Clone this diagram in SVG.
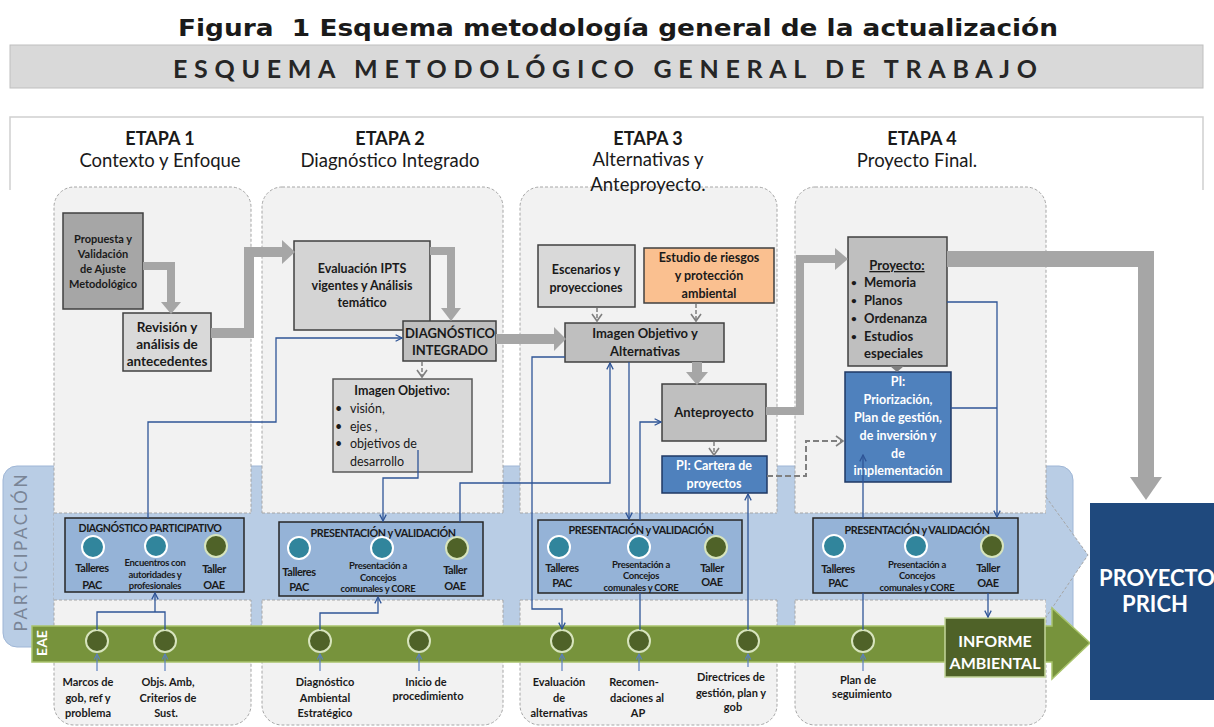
<svg xmlns="http://www.w3.org/2000/svg" width="1214" height="727" viewBox="0 0 1214 727">
<style>
text{font-family:Lato,'Liberation Sans',sans-serif;fill:#1a1a1a}
.m{text-anchor:middle}
.bd{font-weight:bold}
.s11{font-size:11px}
.s12{font-size:12.5px}
.s13{font-size:13px}
.s10{font-size:11px;letter-spacing:-0.45px;font-weight:bold;text-anchor:middle}
.s9{font-size:9.5px;letter-spacing:-0.3px;font-weight:bold;text-anchor:middle}
.w{fill:#fff}
.col{fill:#f2f2f2;stroke:#a6a6a6;stroke-width:1;stroke-dasharray:3 2}
.dl{stroke:#a6a6a6;stroke-width:1;stroke-dasharray:3 2;fill:none}
.ga{fill:none;stroke:#a6a6a6}
.gh{fill:#a6a6a6}
.gd{fill:none;stroke:#7f7f7f;stroke-width:1.5;stroke-dasharray:4 2}
.bl{fill:none;stroke:#2f5597;stroke-width:1.3}
.bl2{fill:none;stroke:#5b7fbf;stroke-width:1.2}
.pres{fill:#95b3d7;stroke:#262626;stroke-width:1.5}
.teal{fill:#31859c;stroke:#fff;stroke-width:2}
.olive{fill:#4f6228;stroke:#d7e4bd;stroke-width:2}
.box{stroke:#404040;stroke-width:1.5}
</style>
<defs>
<marker id="ob" viewBox="0 0 10 10" refX="9" refY="5" markerWidth="8" markerHeight="8" markerUnits="userSpaceOnUse" orient="auto"><path d="M1,1 L9,5 L1,9" fill="none" stroke="#2f5597" stroke-width="1.6"/></marker>
<marker id="ob2" viewBox="0 0 10 10" refX="9" refY="5" markerWidth="7" markerHeight="7" markerUnits="userSpaceOnUse" orient="auto"><path d="M1,1 L9,5 L1,9" fill="none" stroke="#5b7fbf" stroke-width="1.5"/></marker>
<marker id="gc" viewBox="0 0 12 12" refX="8" refY="6" markerWidth="12" markerHeight="12" markerUnits="userSpaceOnUse" orient="auto"><path d="M1,1 L8,6 L1,11" fill="none" stroke="#7f7f7f" stroke-width="1.6"/></marker>
</defs>

<!-- Title -->
<text x="618" y="36" xml:space="preserve" style="font-family:'DejaVu Sans','Liberation Sans',sans-serif" font-size="23.5" font-weight="bold" text-anchor="middle" textLength="880" lengthAdjust="spacingAndGlyphs">Figura  1 Esquema metodología general de la actualización</text>
<rect x="10" y="45" width="1193" height="43" fill="#d9d9d9" stroke="#bfbfbf"/>
<text x="605" y="78" font-size="25" font-weight="bold" text-anchor="middle" textLength="864" lengthAdjust="spacing" style="fill:#262626">ESQUEMA METODOLÓGICO GENERAL DE TRABAJO</text>

<!-- header frame -->
<path d="M10,190 V117 H1203 V190" fill="#fff" stroke="#d0d0d0" stroke-width="1.5"/>

<!-- participation band background -->
<rect x="3" y="466" width="1070" height="181" rx="14" fill="#b9cde5" stroke="#9fb6d6"/>

<!-- stage columns -->
<g id="columns">
<rect class="col" x="54" y="187" width="197" height="538" rx="20"/>
<rect class="col" x="262" y="187" width="241" height="538" rx="20"/>
<rect class="col" x="520" y="187" width="257" height="538" rx="20"/>
<rect class="col" x="795" y="187" width="251" height="538" rx="20"/>
</g>

<!-- participation strip overlay -->
<rect x="54" y="513" width="992" height="87" fill="#b9cde5"/>
<path class="dl" d="M54,513 H251 M262,513 H503 M520,513 H777 M795,513 H1046 M54,600 H251 M262,600 H503 M520,600 H777 M795,600 H1046"/>
<path d="M1046,497 L1088,555 L1046,617" fill="#b9cde5" stroke="#a6a6a6" stroke-dasharray="3 2"/>
<text transform="translate(27,553) rotate(-90)" text-anchor="middle" font-size="17" textLength="157" lengthAdjust="spacing" style="fill:#7a8596">PARTICIPACIÓN</text>

<!-- EAE strip -->
<path d="M32,626 H1052 V608 L1090,643 L1052,679 V662 H32 Z" fill="#77933c" stroke="#a9c46c" stroke-width="1.5"/>
<text transform="translate(47,643) rotate(-90)" text-anchor="middle" font-size="14" font-weight="bold" class="w">EAE</text>

<!-- stage headers -->
<g id="headers">
<text x="160" y="145" font-size="18" class="m bd">ETAPA 1</text>
<text x="160" y="167" font-size="18.5" class="m">Contexto y Enfoque</text>
<text x="390" y="145" font-size="18" class="m bd">ETAPA 2</text>
<text x="390" y="167" font-size="18.5" class="m">Diagnóstico Integrado</text>
<text x="648" y="145" font-size="18" class="m bd">ETAPA 3</text>
<text x="648" y="166" font-size="18.5" class="m">Alternativas y</text>
<text x="648" y="191" font-size="18.5" class="m">Anteproyecto.</text>
<text x="922" y="145" font-size="18" class="m bd">ETAPA 4</text>
<text x="917" y="167" font-size="18.5" class="m">Proyecto Final.</text>
</g>

<!-- nodes -->
<g id="n-propuesta">
<rect class="box" x="63" y="213" width="80" height="96" fill="#a6a6a6"/>
<text class="m bd s11" x="103" y="243">Propuesta  y</text>
<text class="m bd s11" x="103" y="258">Validación</text>
<text class="m bd s11" x="103" y="273">de Ajuste</text>
<text class="m bd s11" x="103" y="288">Metodológico</text>
</g>
<g id="n-revision">
<rect class="box" x="123" y="313" width="88" height="58" fill="#d9d9d9"/>
<text class="m bd" font-size="13.5" x="167" y="332">Revisión y</text>
<text class="m bd" font-size="13.5" x="167" y="349">análisis de</text>
<text class="m bd" font-size="13.5" x="167" y="366">antecedentes</text>
</g>
<g id="n-evaluacion">
<rect class="box" x="294" y="241" width="136" height="89" fill="#d4d4d4"/>
<text class="m bd s12" x="362" y="273">Evaluación IPTS</text>
<text class="m bd s12" x="362" y="290">vigentes y  Análisis</text>
<text class="m bd s12" x="362" y="307">temático</text>
</g>
<g id="n-diagnostico">
<rect class="box" x="403" y="321" width="93" height="40" fill="#bfbfbf"/>
<text class="m bd s13" x="450" y="338">DIAGNÓSTICO</text>
<text class="m bd s13" x="450" y="355">INTEGRADO</text>
</g>
<g id="n-imagen-objetivo">
<rect x="333" y="379" width="139" height="93" fill="#d9d9d9" stroke="#595959" stroke-width="1.5"/>
<text class="m bd s12" x="402" y="395">Imagen Objetivo:</text>
<text class="s12" x="335" y="413">•</text><text class="s12" x="350" y="413">visión,</text>
<text class="s12" x="335" y="431">•</text><text class="s12" x="350" y="431">ejes ,</text>
<text class="s12" x="335" y="448">•</text><text class="s12" x="350" y="448">objetivos de</text>
<text class="s12" x="350" y="466">desarrollo</text>
</g>
<g id="n-escenarios">
<rect class="box" x="538" y="245" width="97" height="62" fill="#d9d9d9"/>
<text class="m bd s12" x="586" y="274">Escenarios y</text>
<text class="m bd s12" x="586" y="292">proyecciones</text>
</g>
<g id="n-estudio">
<rect class="box" x="644" y="248" width="130" height="55" fill="#fac090"/>
<text class="m bd s12" x="709" y="262">Estudio de riesgos</text>
<text class="m bd s12" x="709" y="280">y protección</text>
<text class="m bd s12" x="709" y="298">ambiental</text>
</g>
<g id="n-imagen-alternativas">
<rect class="box" x="565" y="323" width="159" height="39" fill="#bfbfbf"/>
<text class="m bd s13" x="645" y="338">Imagen Objetivo y</text>
<text class="m bd s13" x="645" y="356">Alternativas</text>
</g>
<g id="n-anteproyecto">
<rect class="box" x="662" y="384" width="104" height="57" fill="#bfbfbf"/>
<text class="m bd s13" x="714" y="417">Anteproyecto</text>
</g>
<g id="n-cartera">
<rect x="662" y="456" width="105" height="37" fill="#4f81bd" stroke="#1f3864" stroke-width="1.5"/>
<text class="m bd s12 w" x="714" y="470">PI: Cartera de</text>
<text class="m bd s12 w" x="714" y="488">proyectos</text>
</g>
<g id="n-proyecto">
<rect class="box" x="848" y="237" width="99" height="129" fill="#bfbfbf"/>
<text class="m bd s13" x="897" y="270" text-decoration="underline">Proyecto:</text>
<text class="bd" font-size="10" x="851" y="286">•</text><text class="bd s13" x="864" y="287">Memoria</text>
<text class="bd" font-size="10" x="851" y="304">•</text><text class="bd s13" x="864" y="305">Planos</text>
<text class="bd" font-size="10" x="851" y="322">•</text><text class="bd s13" x="864" y="323">Ordenanza</text>
<text class="bd" font-size="10" x="851" y="340">•</text><text class="bd s13" x="864" y="341">Estudios</text>
<text class="bd s13" x="864" y="358">especiales</text>
</g>
<g id="n-priorizacion">
<rect x="845" y="372" width="106" height="110" fill="#4f81bd" stroke="#1f3864" stroke-width="1.5"/>
<text class="m bd s12 w" x="898" y="386">PI:</text>
<text class="m bd s12 w" x="898" y="404">Priorización,</text>
<text class="m bd s12 w" x="898" y="422">Plan de gestión,</text>
<text class="m bd s12 w" x="898" y="440">de inversión y</text>
<text class="m bd s12 w" x="898" y="458">de</text>
<text class="m bd s12 w" x="898" y="475">implementación</text>
</g>

<g id="n-diag-participativo">
<rect class="pres" x="65" y="518" width="179" height="74"/>
<text class="s10" x="150" y="532" textLength="143" lengthAdjust="spacingAndGlyphs">DIAGNÓSTICO PARTICIPATIVO</text>
<circle class="teal" cx="93" cy="547" r="11"/><circle class="teal" cx="156" cy="546" r="11"/><circle class="olive" cx="216" cy="546" r="11"/>
<text class="s10" x="92" y="572">Talleres</text><text class="s10" x="92" y="589">PAC</text>
<text class="s9" x="155" y="566">Encuentros con</text><text class="s9" x="155" y="577.5">autoridades y</text><text class="s9" x="155" y="589">profesionales</text>
<text class="s10" x="214" y="573">Taller</text><text class="s10" x="214" y="589">OAE</text>
</g>
<g id="n-pv2">
<rect class="pres" x="279" y="522" width="204" height="74"/>
<text class="s10" x="383" y="537" textLength="145" lengthAdjust="spacingAndGlyphs">PRESENTACIÓN y VALIDACIÓN</text>
<circle class="teal" cx="299" cy="548" r="11"/><circle class="teal" cx="382" cy="548" r="11"/><circle class="olive" cx="457" cy="548" r="11"/>
<text class="s10" x="299" y="576">Talleres</text><text class="s10" x="299" y="591">PAC</text>
<text class="s9" x="378" y="569">Presentación a</text><text class="s9" x="378" y="580.5">Concejos</text><text class="s9" x="378" y="592">comunales y CORE</text>
<text class="s10" x="455" y="574">Taller</text><text class="s10" x="455" y="590">OAE</text>
</g>
<g id="n-pv3">
<rect class="pres" x="538" y="520" width="204" height="73"/>
<text class="s10" x="641" y="534" textLength="145" lengthAdjust="spacingAndGlyphs">PRESENTACIÓN y VALIDACIÓN</text>
<circle class="teal" cx="559" cy="547" r="11"/><circle class="teal" cx="639" cy="547" r="11"/><circle class="olive" cx="716" cy="547" r="11"/>
<text class="s10" x="562" y="572">Talleres</text><text class="s10" x="562" y="587">PAC</text>
<text class="s9" x="641" y="567.5">Presentación a</text><text class="s9" x="641" y="579">Concejos</text><text class="s9" x="641" y="590.5">comunales y CORE</text>
<text class="s10" x="712" y="572">Taller</text><text class="s10" x="712" y="586">OAE</text>
</g>
<g id="n-pv4">
<rect class="pres" x="813" y="518" width="205" height="75"/>
<text class="s10" x="917" y="534" textLength="145" lengthAdjust="spacingAndGlyphs">PRESENTACIÓN y VALIDACIÓN</text>
<circle class="teal" cx="834" cy="546" r="11"/><circle class="teal" cx="916" cy="546" r="11"/><circle class="olive" cx="992" cy="546" r="11"/>
<text class="s10" x="838" y="573">Talleres</text><text class="s10" x="838" y="587">PAC</text>
<text class="s9" x="917" y="567.5">Presentación a</text><text class="s9" x="917" y="579">Concejos</text><text class="s9" x="917" y="590.5">comunales y CORE</text>
<text class="s10" x="988" y="572">Taller</text><text class="s10" x="988" y="587">OAE</text>
</g>

<g id="n-informe">
<rect x="945" y="618" width="100" height="59" fill="#4f6228" stroke="#c3d69b" stroke-width="1.5"/>
<text class="m bd w" font-size="16" x="995" y="647">INFORME</text>
<text class="m bd w" font-size="16" x="995" y="669">AMBIENTAL</text>
</g>
<g id="n-prich">
<rect x="1090" y="503" width="124" height="197" fill="#1f497d"/>
<text class="m bd w" font-size="22" x="1157" y="586">PROYECTO</text>
<text class="m bd w" font-size="22" x="1155" y="612">PRICH</text>
</g>

<!-- EAE milestones -->
<g id="n-eae-marcos"><circle class="olive" cx="97" cy="641" r="11"/>
<text class="m bd s11" x="88" y="686">Marcos de</text><text class="m bd s11" x="88" y="702">gob, ref y</text><text class="m bd s11" x="88" y="717">problema</text></g>
<g id="n-eae-objs"><circle class="olive" cx="165" cy="641" r="11"/>
<text class="m bd s11" x="168" y="686">Objs. Amb,</text><text class="m bd s11" x="168" y="702">Criterios de</text><text class="m bd s11" x="166" y="717">Sust.</text></g>
<g id="n-eae-diag"><circle class="olive" cx="320" cy="641" r="11"/>
<text class="m bd s11" x="325" y="686">Diagnóstico</text><text class="m bd s11" x="325" y="702">Ambiental</text><text class="m bd s11" x="325" y="717">Estratégico</text></g>
<g id="n-eae-inicio"><circle class="olive" cx="419" cy="641" r="11"/>
<text class="m bd s11" x="426" y="686">Inicio de</text><text class="m bd s11" x="428" y="700">procedimiento</text></g>
<g id="n-eae-eval"><circle class="olive" cx="562" cy="641" r="11"/>
<text class="m bd s11" x="559" y="686">Evaluación</text><text class="m bd s11" x="559" y="702">de</text><text class="m bd s11" x="559" y="717">alternativas</text></g>
<g id="n-eae-recom"><circle class="olive" cx="639" cy="641" r="11"/>
<text class="m bd s11" x="634" y="686">Recomen-</text><text class="m bd s11" x="637" y="702">daciones al</text><text class="m bd s11" x="638" y="717">AP</text></g>
<g id="n-eae-direct"><circle class="olive" cx="748" cy="641" r="11"/>
<text class="m bd s11" x="731" y="681">Directrices de</text><text class="m bd s11" x="731" y="697">gestión, plan y</text><text class="m bd s11" x="733" y="711">gob</text></g>
<g id="n-eae-plan"><circle class="olive" cx="863" cy="641" r="11"/>
<text class="m bd s11" x="858" y="684">Plan de</text><text class="m bd s11" x="862" y="698">seguimiento</text></g>

<!-- connectors -->
<g id="connectors">
<path class="ga" stroke-width="8" d="M143,266 H171 V303"/><polygon class="gh" points="161,302 181,302 171,314"/>
<path class="ga" stroke-width="10" d="M211,333 H249 V252 H283"/><polygon class="gh" points="282,240 282,264 295,252"/>
<path class="ga" stroke-width="8" d="M430,251 H451 V309"/><polygon class="gh" points="441,308 461,308 451,321"/>
<path class="ga" stroke-width="10" d="M496,339 H555"/><polygon class="gh" points="554,327 554,351 566,339"/>
<path class="ga" stroke-width="10" d="M697,362 V373"/><polygon class="gh" points="686,372 708,372 697,385"/>
<path class="ga" stroke-width="8" d="M766,411 H800 V259 H836"/><polygon class="gh" points="835,248 835,270 848,259"/>
<path class="ga" stroke-width="16" d="M947,259 H1146 V478"/><polygon class="gh" points="1130,477 1162,477 1146,500"/>

<path class="gd" d="M422,362 V377" marker-end="url(#gc)"/>
<path class="gd" d="M597,308 V321" marker-end="url(#gc)"/>
<path class="gd" d="M696,304 V321" marker-end="url(#gc)"/>
<path class="gd" d="M714,442 V455" marker-end="url(#gc)"/>
<polygon points="890,366 904,366 897,372" fill="#7f7f7f"/>
<path d="M767,476 H806 V441 H843" fill="none" stroke="#7f7f7f" stroke-width="2" stroke-dasharray="6 3" marker-end="url(#gc)"/>

<path class="bl" d="M148,518 V422 H276 V338 H402" marker-end="url(#ob)"/>
<path class="bl" d="M418,450 V478 H383 V521" marker-end="url(#ob)"/>
<path class="bl" d="M460,522 V483 H610 V363" marker-end="url(#ob)"/>
<path class="bl" d="M565,357 H532 V609 H562 V629" marker-end="url(#ob)"/>
<path class="bl" d="M629,362 V519" marker-end="url(#ob)"/>
<path class="bl" d="M640,630 V593"/>
<path class="bl" d="M640,520 V422 H661" marker-end="url(#ob)"/>
<path class="bl" d="M748,630 V494" marker-end="url(#ob)"/>
<path class="bl" d="M947,302 H997 V517" marker-end="url(#ob)"/>
<path class="bl" d="M951,408 H997"/>
<path class="bl" d="M988,593 V617" marker-end="url(#ob)"/>
<path class="bl" d="M863,630 V593"/>
<path class="bl" d="M863,518 V455" marker-end="url(#ob)"/>
<path class="bl" d="M97,630 V612 H165 V630"/>
<path class="bl" d="M155,612 V593" marker-end="url(#ob)"/>
<path class="bl" d="M320,630 V613 H378 V597" marker-end="url(#ob)"/>

<path class="bl2" d="M97,671 V654" marker-end="url(#ob2)"/>
<path class="bl2" d="M165,671 V654" marker-end="url(#ob2)"/>
<path class="bl2" d="M320,671 V654" marker-end="url(#ob2)"/>
<path class="bl2" d="M419,671 V654" marker-end="url(#ob2)"/>
<path class="bl2" d="M562,671 V654" marker-end="url(#ob2)"/>
<path class="bl2" d="M639,671 V654" marker-end="url(#ob2)"/>
<path class="bl2" d="M748,667 V654" marker-end="url(#ob2)"/>
<path class="bl2" d="M863,671 V654" marker-end="url(#ob2)"/>
</g>
</svg>
